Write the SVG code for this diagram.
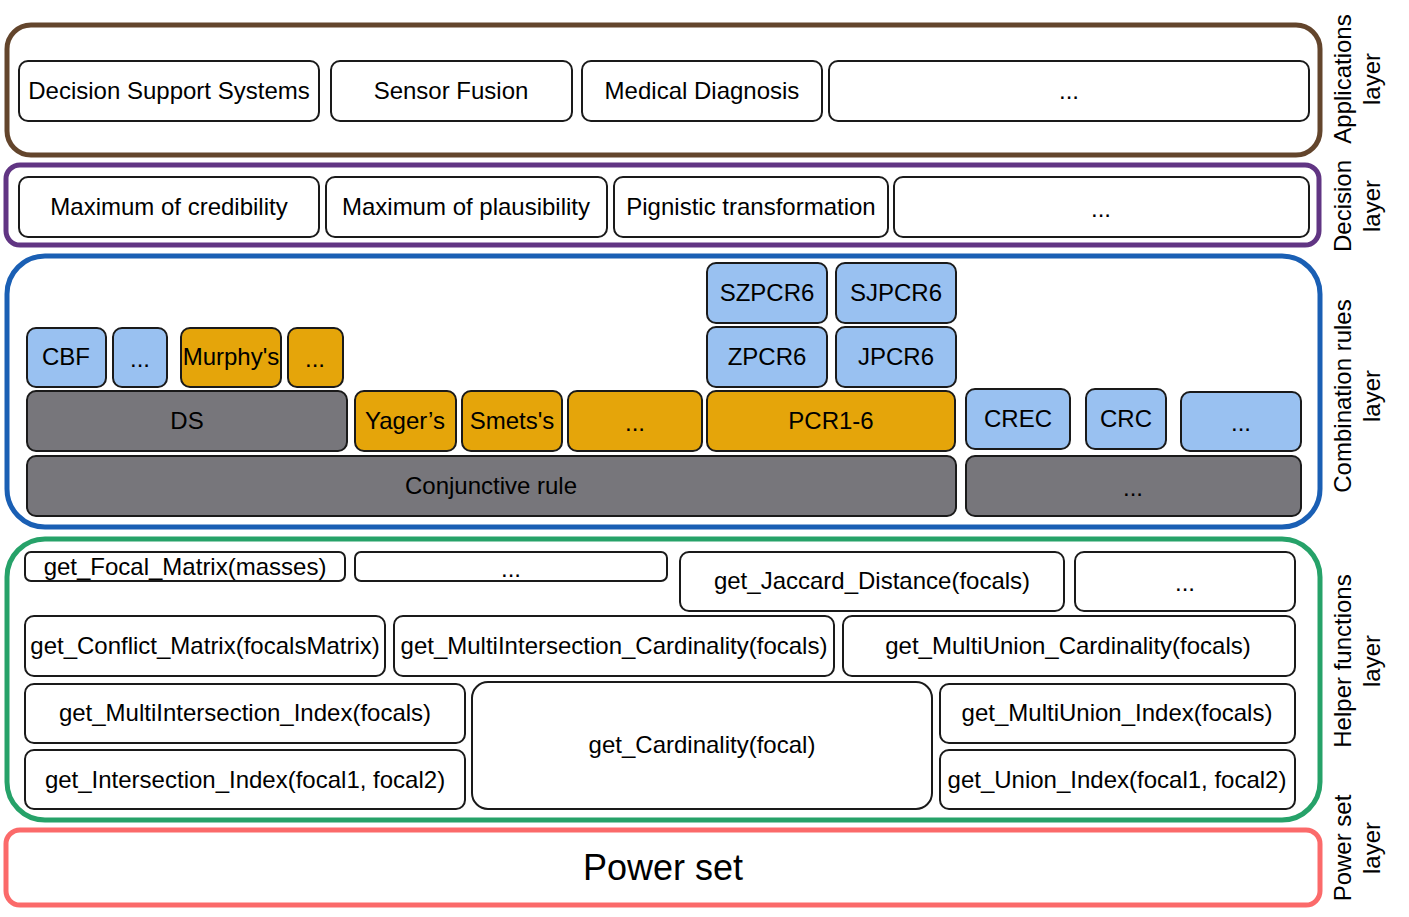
<svg xmlns="http://www.w3.org/2000/svg" width="1409" height="917" viewBox="0 0 1409 917">
<style>
text{font-family:"Liberation Sans",Arial,sans-serif;font-size:24px;fill:#000;text-anchor:middle}
.layer{fill:#fff;stroke-width:5}
.b{stroke:#1a1a1a;stroke-width:2}
.w{fill:#fff}
.lb{fill:#99c1f1}
.or{fill:#e5a50a}
.gr{fill:#77767b}
.side{font-size:24px}
</style>
<rect width="1409" height="917" fill="#fff"/>
<g id="layers">
<rect id="applications-layer" class="layer" x="7" y="25" width="1313" height="130" rx="24" stroke="#63452c"/>
<rect id="decision-layer" class="layer" x="6" y="165" width="1313" height="80" rx="14" stroke="#613583"/>
<rect id="combination-layer" class="layer" x="7" y="256" width="1313" height="271" rx="38" stroke="#1a5fb4"/>
<rect id="helper-layer" class="layer" x="7" y="539" width="1313" height="281" rx="38" stroke="#26a269"/>
<rect id="powerset-layer" class="layer" x="6" y="830" width="1314" height="75" rx="14" stroke="#fb6a6a"/>
</g>
<g id="connectors"></g>
<g id="apps">
<g id="n-dss"><rect class="b w" x="19" y="61" width="300" height="60" rx="9"/><text x="169" y="99">Decision Support Systems</text></g>
<g id="n-sensor"><rect class="b w" x="331" y="61" width="241" height="60" rx="9"/><text x="451" y="99">Sensor Fusion</text></g>
<g id="n-medical"><rect class="b w" x="582" y="61" width="240" height="60" rx="9"/><text x="702" y="99">Medical Diagnosis</text></g>
<g id="n-app-more"><rect class="b w" x="829" y="61" width="480" height="60" rx="9"/><text x="1069" y="99">...</text></g>
</g>
<g id="decision">
<g id="n-cred"><rect class="b w" x="19" y="177" width="300" height="60" rx="9"/><text x="169" y="215">Maximum of credibility</text></g>
<g id="n-plaus"><rect class="b w" x="326" y="177" width="281" height="60" rx="9"/><text x="466" y="215">Maximum of plausibility</text></g>
<g id="n-pign"><rect class="b w" x="614" y="177" width="274" height="60" rx="9"/><text x="751" y="215">Pignistic transformation</text></g>
<g id="n-dec-more"><rect class="b w" x="894" y="177" width="415" height="60" rx="9"/><text x="1101" y="217">...</text></g>
</g>
<g id="combination">
<g id="n-szpcr6"><rect class="b lb" x="707" y="263" width="120" height="60" rx="9"/><text x="767" y="301">SZPCR6</text></g>
<g id="n-sjpcr6"><rect class="b lb" x="836" y="263" width="120" height="60" rx="9"/><text x="896" y="301">SJPCR6</text></g>
<g id="n-cbf"><rect class="b lb" x="27" y="328" width="79" height="59" rx="9"/><text x="66" y="365">CBF</text></g>
<g id="n-cbf-more"><rect class="b lb" x="113" y="328" width="54" height="59" rx="9"/><text x="140" y="367">...</text></g>
<g id="n-murphy"><rect class="b or" x="181" y="328" width="100" height="59" rx="9"/><text x="231" y="365">Murphy's</text></g>
<g id="n-murphy-more"><rect class="b or" x="288" y="328" width="55" height="59" rx="9"/><text x="315" y="367">...</text></g>
<g id="n-zpcr6"><rect class="b lb" x="707" y="327" width="120" height="60" rx="9"/><text x="767" y="365">ZPCR6</text></g>
<g id="n-jpcr6"><rect class="b lb" x="836" y="327" width="120" height="60" rx="9"/><text x="896" y="365">JPCR6</text></g>
<g id="n-ds"><rect class="b gr" x="27" y="391" width="320" height="60" rx="9"/><text x="187" y="429">DS</text></g>
<g id="n-yager"><rect class="b or" x="355" y="391" width="101" height="60" rx="9"/><text x="405" y="429">Yager’s</text></g>
<g id="n-smets"><rect class="b or" x="462" y="391" width="100" height="60" rx="9"/><text x="512" y="429">Smets's</text></g>
<g id="n-or-more"><rect class="b or" x="568" y="391" width="134" height="60" rx="9"/><text x="635" y="431">...</text></g>
<g id="n-pcr"><rect class="b or" x="707" y="391" width="248" height="60" rx="9"/><text x="831" y="429">PCR1-6</text></g>
<g id="n-crec"><rect class="b lb" x="966" y="389" width="104" height="60" rx="9"/><text x="1018" y="427">CREC</text></g>
<g id="n-crc"><rect class="b lb" x="1086" y="389" width="80" height="60" rx="9"/><text x="1126" y="427">CRC</text></g>
<g id="n-lb-more"><rect class="b lb" x="1181" y="392" width="120" height="59" rx="9"/><text x="1241" y="431">...</text></g>
<g id="n-conj"><rect class="b gr" x="27" y="456" width="929" height="60" rx="9"/><text x="491" y="494">Conjunctive rule</text></g>
<g id="n-gr-more"><rect class="b gr" x="966" y="456" width="335" height="60" rx="9"/><text x="1133" y="496">...</text></g>
</g>
<g id="helpers">
<g id="n-focal"><rect class="b w" x="25" y="552" width="320" height="29" rx="6"/><text x="185" y="575">get_Focal_Matrix(masses)</text></g>
<g id="n-h-more1"><rect class="b w" x="355" y="552" width="312" height="29" rx="6"/><text x="511" y="577">...</text></g>
<g id="n-jaccard"><rect class="b w" x="680" y="552" width="384" height="59" rx="9"/><text x="872" y="589">get_Jaccard_Distance(focals)</text></g>
<g id="n-h-more2"><rect class="b w" x="1075" y="552" width="220" height="59" rx="9"/><text x="1185" y="591">...</text></g>
<g id="n-conflict"><rect class="b w" x="25" y="616" width="360" height="60" rx="9"/><text x="205" y="654">get_Conflict_Matrix(focalsMatrix)</text></g>
<g id="n-mic"><rect class="b w" x="394" y="616" width="440" height="60" rx="9"/><text x="614" y="654">get_MultiIntersection_Cardinality(focals)</text></g>
<g id="n-muc"><rect class="b w" x="843" y="616" width="452" height="60" rx="9"/><text x="1068" y="654">get_MultiUnion_Cardinality(focals)</text></g>
<g id="n-mii"><rect class="b w" x="25" y="684" width="440" height="59" rx="9"/><text x="245" y="721">get_MultiIntersection_Index(focals)</text></g>
<g id="n-card"><rect class="b w" x="472" y="682" width="460" height="127" rx="16"/><text x="702" y="753">get_Cardinality(focal)</text></g>
<g id="n-mui"><rect class="b w" x="940" y="684" width="355" height="59" rx="9"/><text x="1117" y="721">get_MultiUnion_Index(focals)</text></g>
<g id="n-ii"><rect class="b w" x="25" y="750" width="440" height="59" rx="9"/><text x="245" y="788">get_Intersection_Index(focal1, focal2)</text></g>
<g id="n-ui"><rect class="b w" x="940" y="750" width="355" height="59" rx="9"/><text x="1117" y="788">get_Union_Index(focal1, focal2)</text></g>
</g>
<g id="powerset">
<text x="663" y="880" style="font-size:36px">Power set</text>
</g>
<g id="side-labels">
<text class="side" transform="translate(1351,79) rotate(-90)">Applications</text>
<text class="side" transform="translate(1380,79) rotate(-90)">layer</text>
<text class="side" transform="translate(1351,206) rotate(-90)">Decision</text>
<text class="side" transform="translate(1380,206) rotate(-90)">layer</text>
<text class="side" transform="translate(1351,396) rotate(-90)">Combination rules</text>
<text class="side" transform="translate(1380,396) rotate(-90)">layer</text>
<text class="side" transform="translate(1351,661) rotate(-90)">Helper functions</text>
<text class="side" transform="translate(1380,661) rotate(-90)">layer</text>
<text class="side" transform="translate(1351,848) rotate(-90)">Power set</text>
<text class="side" transform="translate(1380,848) rotate(-90)">layer</text>
</g>
</svg>
